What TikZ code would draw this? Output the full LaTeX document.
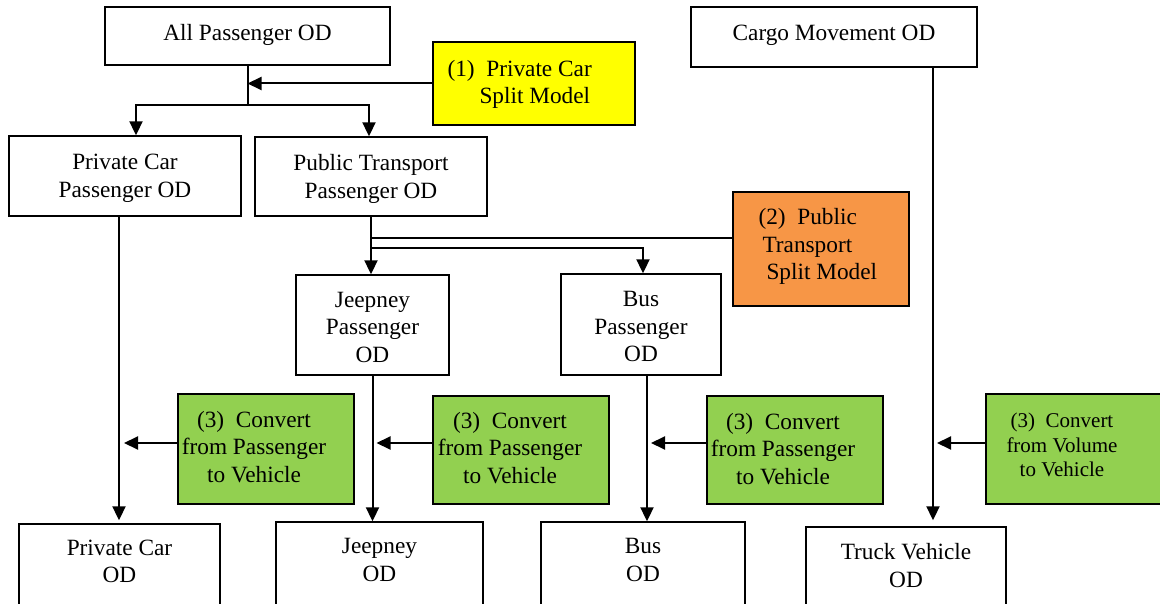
\documentclass[tikz,border=0pt]{standalone}
\usepackage{fontspec}
\setmainfont{Liberation Serif}
\usetikzlibrary{arrows.meta,calc}
\definecolor{ybox}{HTML}{FFFF00}
\definecolor{obox}{HTML}{F79646}
\definecolor{gbox}{HTML}{92D050}
\begin{document}
\begin{tikzpicture}[x=1pt,y=-1pt,
  box/.style={draw, line width=1.4pt, inner sep=0pt, fill=white},
  lbl/.style={font=\fontsize{23.3}{27.5}\selectfont, align=center, anchor=center, inner sep=0pt},
  lbls/.style={font=\fontsize{21}{24.5}\selectfont, align=center, anchor=center, inner sep=0pt},
  ln/.style={line width=2pt},
  arr/.style={line width=2pt, -{Triangle[length=14pt,width=13pt]}}]
\useasboundingbox (0,0) rectangle (1160,604);
\clip (0,0) rectangle (1160,604);

% top row
\node[box,minimum width=285pt,minimum height=58pt,label={[lbl,yshift=1.5pt]center:{All Passenger OD}}] (allp) at (247.5,36) {};
\node[box,fill=ybox,minimum width=202pt,minimum height=83pt,label={[lbl,align=left,anchor=west,xshift=15pt,yshift=-1pt]west:{(1)\ \ Private Car\\\hspace*{32pt}Split Model}}] (m1) at (534,83.5) {};
\node[box,minimum width=286pt,minimum height=60pt,label={[lbl,yshift=2pt]center:{Cargo Movement OD}}] (cargo) at (834,37) {};

% second row
\node[box,minimum width=232pt,minimum height=80pt,label={[lbl,yshift=-2.5pt]center:{Private Car\\Passenger OD}}] (pcp) at (125,176) {};
\node[box,minimum width=232pt,minimum height=79pt,label={[lbl,yshift=-2.5pt]center:{Public Transport\\Passenger OD}}] (ptp) at (371,176.5) {};
\node[box,fill=obox,minimum width=176pt,minimum height=114pt,label={[lbl,align=left,anchor=west,xshift=26pt,yshift=2.5pt]west:{(2)\ \ Public\\\hspace*{4pt}Transport\\\hspace*{8pt}Split Model}}] (m2) at (821,249) {};

% third row
\node[box,minimum width=153pt,minimum height=100pt,label={[lbl,yshift=-2pt]center:{Jeepney\\Passenger\\OD}}] (jp) at (372.5,325) {};
\node[box,minimum width=160pt,minimum height=101pt,label={[lbl,yshift=-2pt]center:{Bus\\Passenger\\OD}}] (bp) at (641,324.5) {};

% conversion models
\node[box,fill=gbox,minimum width=176pt,minimum height=110pt,label={[lbl,xshift=-12pt,yshift=2pt]center:{(3)\ \ Convert\\from Passenger\\to Vehicle}}] (g1) at (266,449) {};
\node[box,fill=gbox,minimum width=176pt,minimum height=108pt,label={[lbl,xshift=-11pt,yshift=2pt]center:{(3)\ \ Convert\\from Passenger\\to Vehicle}}] (g2) at (521,450) {};
\node[box,fill=gbox,minimum width=176pt,minimum height=108pt,label={[lbl,xshift=-12pt,yshift=1pt]center:{(3)\ \ Convert\\from Passenger\\to Vehicle}}] (g3) at (795,450) {};
\node[box,fill=gbox,minimum width=200pt,minimum height=110pt,label={[lbls,xshift=-24pt,yshift=4pt]center:{(3)\ \ Convert\\from Volume\\to Vehicle}}] (g4) at (1086,449) {};

% bottom row
\node[box,minimum width=201pt,minimum height=100pt,label={[lbl,yshift=-38pt]north:{Private Car\\OD}}] (pc) at (119.5,574) {};
\node[box,minimum width=207pt,minimum height=100pt,label={[lbl,yshift=-38.5pt]north:{Jeepney\\OD}}] (jo) at (379.5,572) {};
\node[box,minimum width=204pt,minimum height=100pt,label={[lbl,yshift=-38.5pt]north:{Bus\\OD}}] (bo) at (643,572) {};
\node[box,minimum width=200pt,minimum height=100pt,label={[lbl,yshift=-39pt]north:{Truck Vehicle\\OD}}] (tv) at (906,577) {};

% connectors
\coordinate (j1) at ($(allp.south)+(0,39)$);
\draw[ln] (allp.south) -- (j1);
\draw[arr] (m1.west) -- (m1.west -| allp.south);
\draw[arr] (j1) -| ([xshift=11pt]pcp.north);
\draw[arr] (j1) -| ([xshift=-2pt]ptp.north);

\draw[arr, shorten >=3pt] ([xshift=-6pt]pcp.south) -- ([xshift=-6pt]pcp.south |- pc.north);
\draw[arr] ($(g1.west)+(0,-6)$) -- ($(g1.west -| pcp.south)+(-1,-6)$);

\coordinate (j2) at ($(ptp.south)+(0,21)$);
\coordinate (j3) at ($(ptp.south)+(0,31)$);
\draw[arr] (ptp.south) -- (ptp.south |- jp.north);
\draw[ln] (j2) -- (j2 -| m2.west);
\draw[arr] (j3) -| ([xshift=2pt]bp.north);

\draw[arr] (jp.south) -- (jp.south |- jo.north);
\draw[arr] ($(g2.west)+(0,-7)$) -- ($(g2.west -| jp.south)+(4,-7)$);

\draw[arr] ([xshift=6pt]bp.south) -- ([xshift=6pt]bp.south |- bo.north);
\draw[arr] ($(g3.west)+(0,-7)$) -- ($(g3.west -| bp.south)+(10,-7)$);

\draw[arr, shorten >=6pt] ([xshift=99pt]cargo.south) -- ([xshift=99pt]cargo.south |- tv.north);
\draw[arr] ($(g4.west)+(0,-6)$) -- ($(g4.west -| cargo.south)+(103,-6)$);
\end{tikzpicture}
\end{document}
